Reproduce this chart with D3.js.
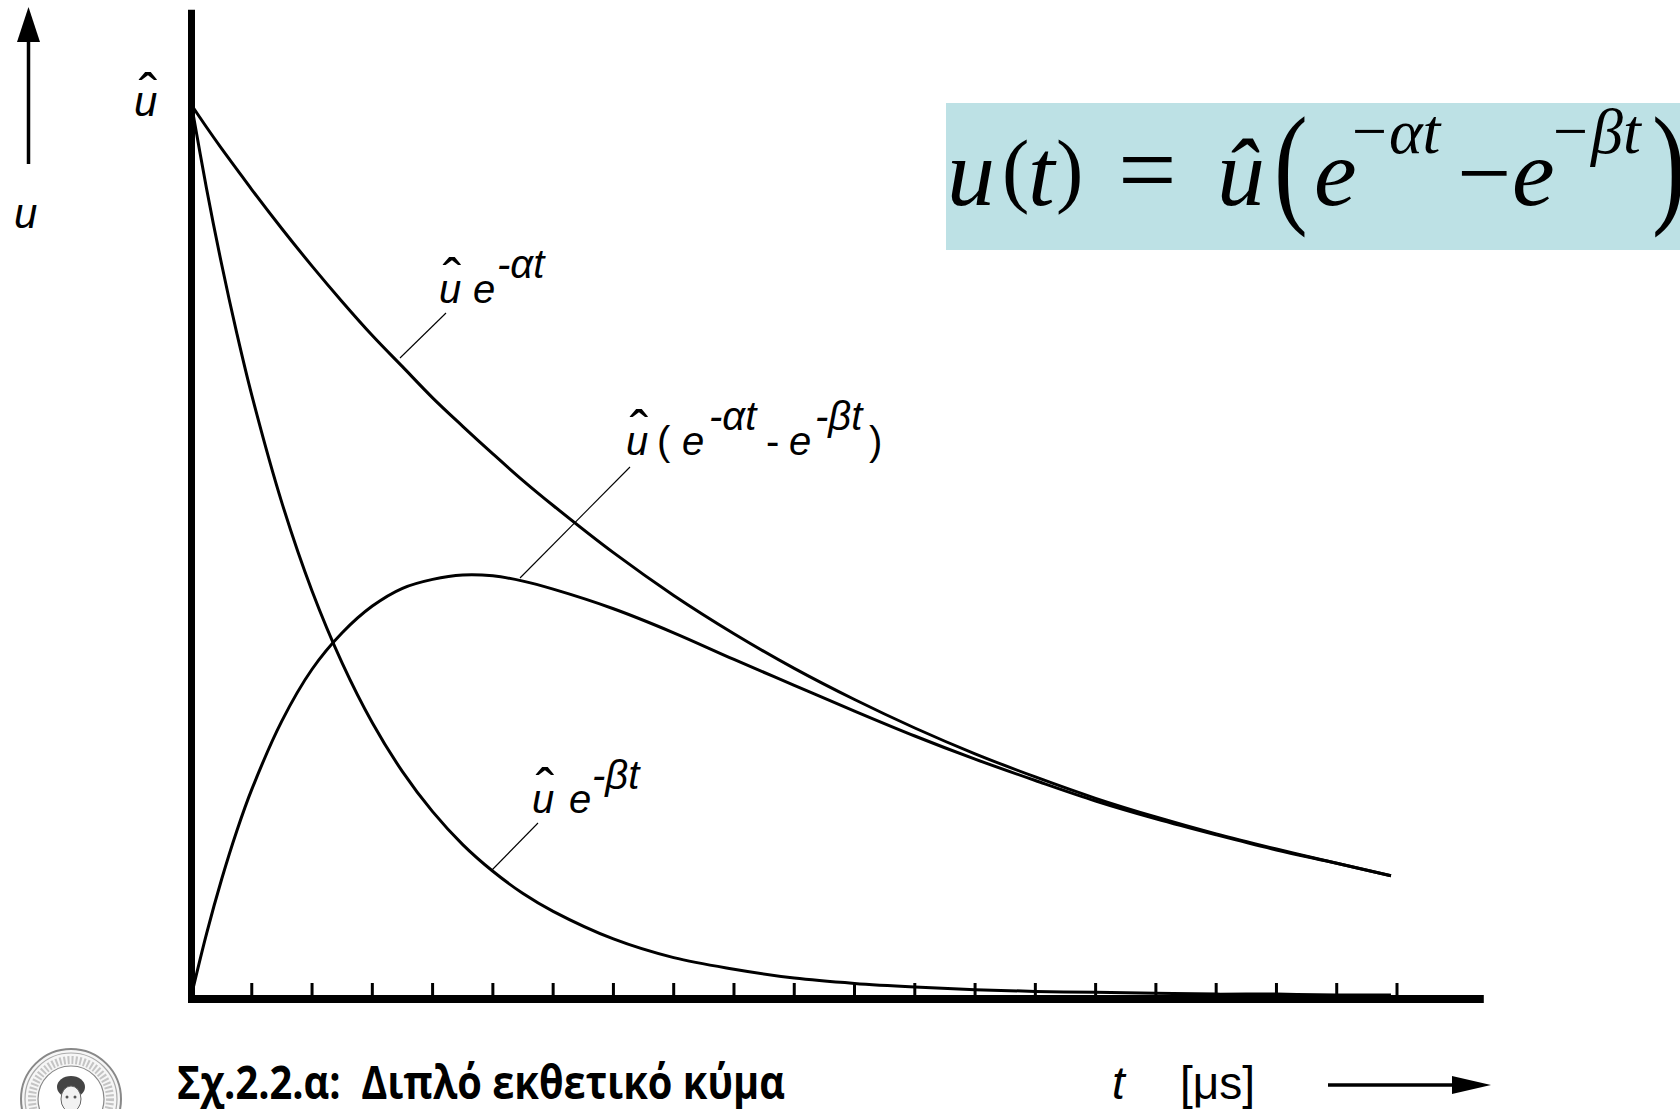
<!DOCTYPE html>
<html>
<head>
<meta charset="utf-8">
<script src="https://cdn.jsdelivr.net/npm/d3@7"></script>
<style>
  html, body { margin: 0; padding: 0; background: #fff; }
  svg { display: block; }
  .sans { font-family: "Liberation Sans", Arial, sans-serif; }
  .serif { font-family: "Liberation Serif", "Times New Roman", serif; }
</style>
</head>
<body>
<div id="chart"></div>
<script>
// Double exponential impulse: three curves
// t in tick units (one tick = one division of the time axis), values relative to u-hat

const tValues = [0, 0.25, 0.5, 0.75, 1, 1.5, 2, 2.5, 3, 3.5, 4, 4.5, 5, 5.5, 6,
  7, 8, 9, 10, 11, 12, 13, 14, 15, 16, 17, 18, 19, 19.9];

const alphaValues = [1, 0.975, 0.951, 0.928, 0.905, 0.861, 0.819, 0.779, 0.741, 0.706,
  0.671, 0.639, 0.608, 0.578, 0.550, 0.497, 0.449, 0.406, 0.367, 0.332, 0.300, 0.271,
  0.245, 0.221, 0.200, 0.181, 0.164, 0.148, 0.134];

const betaValues = [1, 0.906, 0.821, 0.744, 0.674, 0.553, 0.454, 0.373, 0.306, 0.251,
  0.206, 0.169, 0.139, 0.114, 0.094, 0.063, 0.042, 0.029, 0.019, 0.013, 0.009, 0.006,
  0.004, 0.003, 0.002, 0.001, 0.001, 0, 0];

const diffValues = [0, 0.069, 0.130, 0.184, 0.231, 0.308, 0.366, 0.407, 0.437, 0.457,
  0.467, 0.472, 0.471, 0.465, 0.456, 0.434, 0.407, 0.377, 0.348, 0.319, 0.291, 0.265,
  0.241, 0.218, 0.198, 0.180, 0.163, 0.148, 0.134];

const tickValues = [1, 2, 3, 4, 5, 6, 7, 8, 9, 10, 11, 12, 13, 14, 15, 16, 17, 18, 19, 20];

const tAxisEnd = 21.44;   // horizontal axis runs past the last tick
const uAxisTop = 1.107;   // vertical axis runs above u-hat

const caption = "Σχ.2.2.α:  Διπλό εκθετικό κύμα";

(function () {
  const width = 1680;
  const height = 1109;

  const svg = d3.select("#chart")
    .append("svg")
    .attr("width", width)
    .attr("height", height);

  const x = d3.scaleLinear().domain([0, 20]).range([191.5, 1397]);
  const y = d3.scaleLinear().domain([0, 1]).range([995, 105]);

  const toPoints = vals => tValues.map((t, i) => ({ t, v: vals[i] }));

  const line = d3.line()
    .x(d => x(d.t))
    .y(d => y(d.v))
    .curve(d3.curveCatmullRom.alpha(0.5));

  // formula box
  const box = svg.append("g");
  box.append("rect")
    .attr("x", 946).attr("y", 103)
    .attr("width", width - 946).attr("height", 147)
    .attr("fill", "#bde1e5");

  const f = box.append("text").attr("class", "serif").attr("fill", "#000");
  const piece = (txt, px, py, size, italic) =>
    f.append("tspan")
      .attr("x", px).attr("y", py)
      .style("font-size", size + "px")
      .style("font-style", italic ? "italic" : "normal")
      .text(txt);

  piece("u", 947, 205, 96, true);
  piece("(", 1002, 197, 82, false);
  piece("t", 1028, 205, 96, true);
  piece(")", 1056, 197, 82, false);
  piece("=", 1118, 205, 104, false);
  piece("û", 1217, 205, 96, true);
  piece("e", 1314, 205, 96, true);
  piece("−", 1352, 152, 62, false);
  piece("αt", 1389, 153, 64, true);
  piece("−", 1457, 205, 96, false);
  piece("e", 1512, 205, 96, true);
  piece("−", 1553, 152, 62, false);
  piece("βt", 1591, 153, 64, true);

  // tall thin brackets round the exponentials
  const bigParen = (s, px) =>
    box.append("text")
      .attr("class", "serif")
      .attr("transform", `translate(${px},209) scale(1.1,1.45)`)
      .style("font-size", "92px")
      .text(s);
  bigParen("(", 1274);
  bigParen(")", 1652);

  // curves
  const curves = [alphaValues, betaValues, diffValues];
  svg.selectAll("path.curve")
    .data(curves)
    .enter()
    .append("path")
    .attr("class", "curve")
    .attr("fill", "none")
    .attr("stroke", "#000")
    .attr("stroke-width", 3)
    .attr("stroke-linejoin", "round")
    .attr("d", d => line(toPoints(d)));

  // axes
  svg.append("line")
    .attr("x1", x(0)).attr("x2", x(0))
    .attr("y1", y(uAxisTop)).attr("y2", y(0) + 8)
    .attr("stroke", "#000").attr("stroke-width", 7);

  svg.append("line")
    .attr("x1", x(0) - 3.5).attr("x2", x(tAxisEnd))
    .attr("y1", y(0) + 4).attr("y2", y(0) + 4)
    .attr("stroke", "#000").attr("stroke-width", 8);

  svg.selectAll("line.tick")
    .data(tickValues)
    .enter()
    .append("line")
    .attr("class", "tick")
    .attr("x1", d => x(d)).attr("x2", d => x(d))
    .attr("y1", y(0) - 12).attr("y2", y(0) + 1)
    .attr("stroke", "#000").attr("stroke-width", 3);

  // leader lines
  const leaders = [
    [446, 313, 400, 358],
    [630, 467, 520, 578],
    [538, 823, 492, 870]
  ];
  svg.selectAll("line.leader")
    .data(leaders)
    .enter()
    .append("line")
    .attr("class", "leader")
    .attr("x1", d => d[0]).attr("y1", d => d[1])
    .attr("x2", d => d[2]).attr("y2", d => d[3])
    .attr("stroke", "#000").attr("stroke-width", 1.1);

  // labels
  const lab = svg.append("g").attr("class", "sans").attr("fill", "#000");
  const txt = (s, px, py, size, italic, anchor) =>
    lab.append("text")
      .attr("x", px).attr("y", py)
      .attr("text-anchor", anchor || "start")
      .style("font-size", size + "px")
      .style("font-style", italic ? "italic" : "normal")
      .text(s);
  const hat = (cx, py) => txt("ˆ", cx, py, 56, false, "middle");

  // u-hat at top of axis, u on left
  txt("u", 134, 116, 42, true);
  hat(148, 113);
  txt("u", 14, 228, 42, true);

  // û e^-αt
  txt("u", 439, 303, 40, true);
  hat(452, 298);
  txt("e", 473, 303, 40, true);
  txt("-αt", 497, 278, 40, true);

  // û ( e^-αt - e^-βt )
  txt("u", 626, 455, 40, true);
  hat(639, 450);
  txt("(", 657, 455, 40, false);
  txt("e", 682, 455, 40, true);
  txt("-αt", 709, 430, 40, true);
  txt("-", 766, 455, 40, false);
  txt("e", 789, 455, 40, true);
  txt("-βt", 815, 430, 40, true);
  txt(")", 869, 455, 40, false);

  // û e^-βt
  txt("u", 532, 813, 40, true);
  hat(545, 808);
  txt("e", 569, 813, 40, true);
  txt("-βt", 592, 789, 40, true);

  // vertical arrow (u)
  svg.append("line")
    .attr("x1", 28.5).attr("x2", 28.5).attr("y1", 40).attr("y2", 164)
    .attr("stroke", "#000").attr("stroke-width", 3.5);
  svg.append("path")
    .attr("d", "M17,42 L28.5,7 L40,42 Z")
    .attr("fill", "#000");

  // bottom line: caption, t [μs], arrow
  lab.append("text")
    .attr("x", 177).attr("y", 1099)
    .attr("textLength", 608)
    .attr("lengthAdjust", "spacingAndGlyphs")
    .style("font-family", "'Open Sans', 'Noto Sans', sans-serif")
    .style("font-weight", "bold")
    .style("font-size", "46px")
    .style("white-space", "pre")
    .text(caption);

  txt("t", 1112, 1099, 46, true);
  txt("[μs]", 1180, 1099, 46, false);

  svg.append("line")
    .attr("x1", 1328).attr("x2", 1458).attr("y1", 1085).attr("y2", 1085)
    .attr("stroke", "#000").attr("stroke-width", 3.5);
  svg.append("path")
    .attr("d", "M1452,1076 L1491,1085 L1452,1094 Z")
    .attr("fill", "#000");

  // university seal, mostly cut off by the bottom edge
  const seal = svg.append("g").attr("transform", "translate(71,1099)");
  seal.append("circle").attr("r", 50).attr("fill", "#f6f6f6")
    .attr("stroke", "#888").attr("stroke-width", 2);
  seal.append("circle").attr("r", 46).attr("fill", "none")
    .attr("stroke", "#aaa").attr("stroke-width", 1.2);
  seal.append("circle").attr("r", 39).attr("fill", "none")
    .attr("stroke", "#c4c4c4").attr("stroke-width", 8)
    .attr("stroke-dasharray", "2 2");
  seal.append("circle").attr("r", 33).attr("fill", "#fff")
    .attr("stroke", "#888").attr("stroke-width", 1.2);
  seal.append("ellipse").attr("cx", 0).attr("cy", -12).attr("rx", 14).attr("ry", 11)
    .attr("fill", "#444");
  seal.append("ellipse").attr("cx", 0).attr("cy", 0).attr("rx", 10).attr("ry", 13)
    .attr("fill", "#f2f2f2").attr("stroke", "#666").attr("stroke-width", 1);
  seal.append("circle").attr("cx", -4).attr("cy", -2).attr("r", 1.5).attr("fill", "#555");
  seal.append("circle").attr("cx", 4).attr("cy", -2).attr("r", 1.5).attr("fill", "#555");
})();
</script>
</body>
</html>
